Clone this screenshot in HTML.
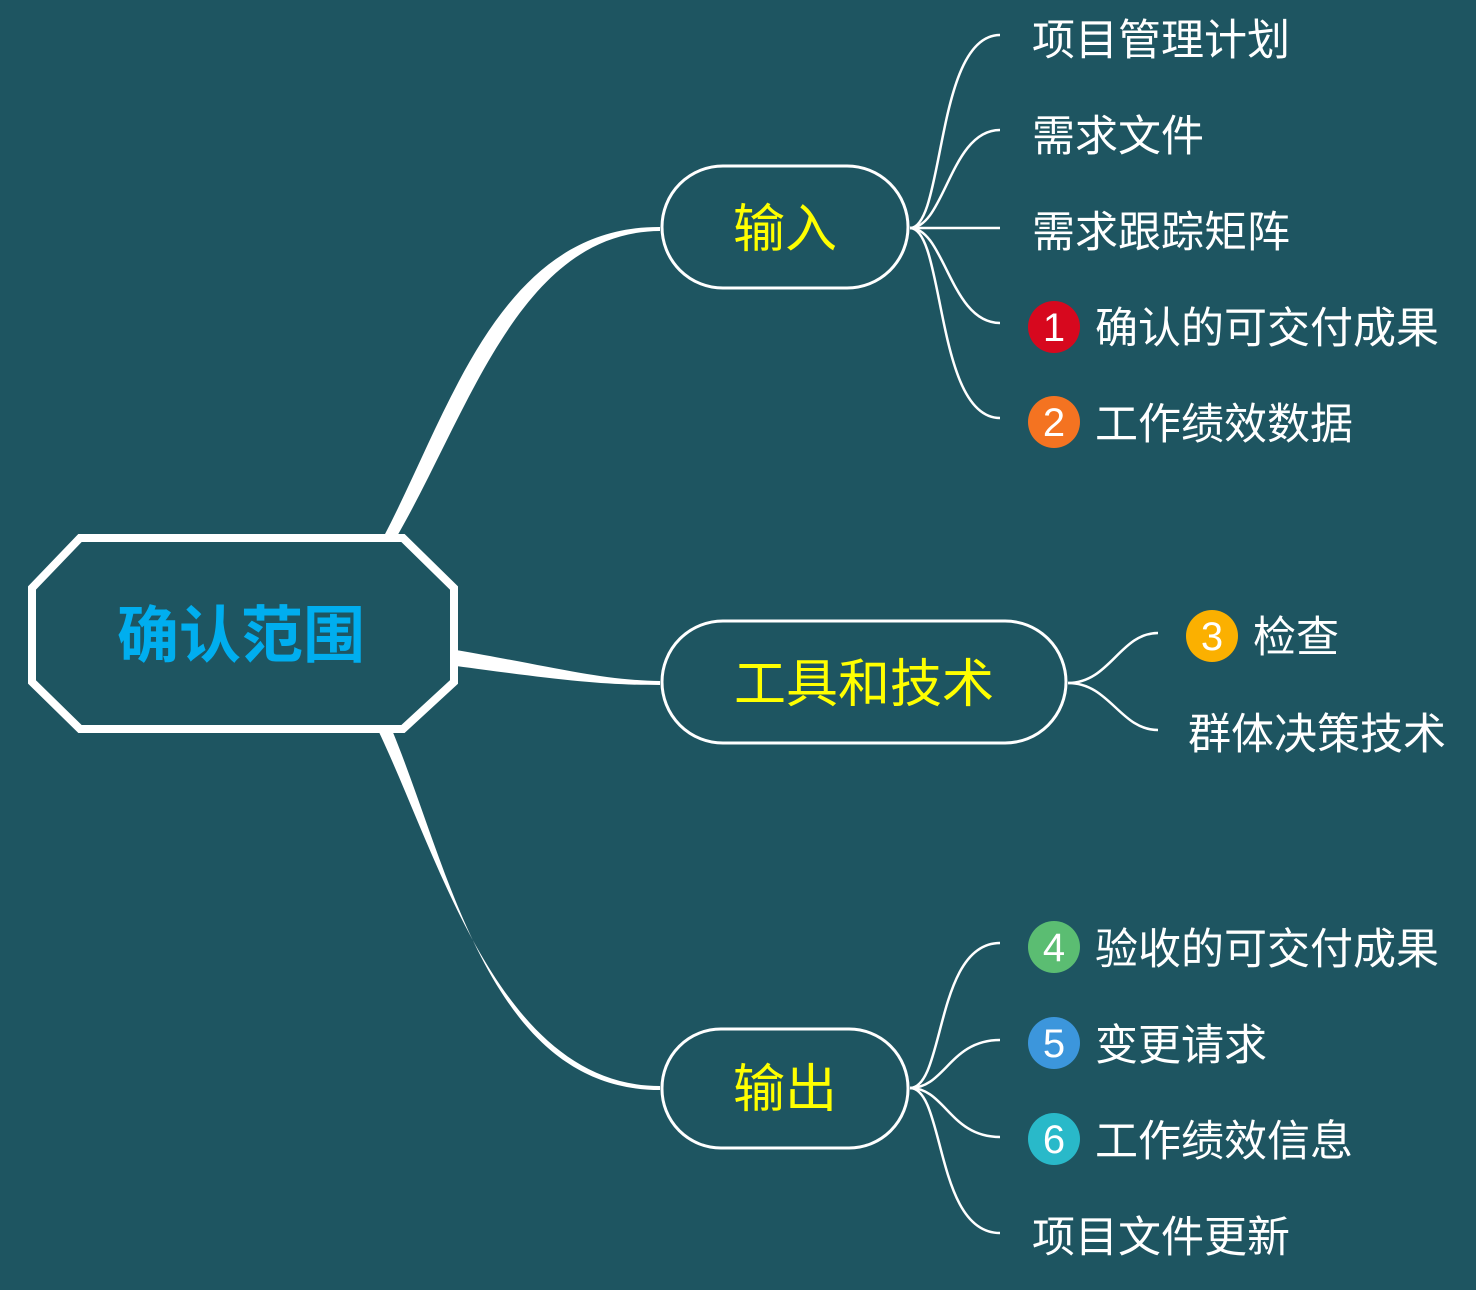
<!DOCTYPE html>
<html><head><meta charset="utf-8"><style>
html,body{margin:0;padding:0;background:#1e5561;}
svg{display:block}
text{font-family:"Liberation Sans","Noto Sans CJK SC",sans-serif;}
</style></head><body>
<svg width="1476" height="1290" viewBox="0 0 1476 1290" xmlns="http://www.w3.org/2000/svg">
<rect width="1476" height="1290" fill="#1e5561"/>
<path d="M384,536 C450,410 500,226 660,227 L660,231 C520,232 470,410 396,538 Z" fill="#fff"/>
<path d="M456,650 C560,668 600,680 660,681 L660,685 C600,685 560,680 456,666 Z" fill="#fff"/>
<path d="M378,730 C440,860 500,1086 660,1086 L660,1090 C490,1090 450,870 392,730 Z" fill="#fff"/>
<polygon points="80,538 403,538 454,588 454,682 403,729 80,729 32,682 32,588" fill="#1e5561" stroke="#fff" stroke-width="8" stroke-linejoin="miter"/>
<text x="241" y="657" font-size="62" font-weight="bold" fill="#00aeef" text-anchor="middle">确认范围</text>
<g fill="#1e5561" stroke="#fff" stroke-width="3">
<rect x="662" y="166" width="246" height="122" rx="61"/>
<rect x="662" y="621" width="404" height="122" rx="61"/>
<rect x="662" y="1029" width="246" height="119" rx="59"/>
</g>
<g fill="#ffff00" font-size="52" text-anchor="middle">
<text x="785" y="247">输入</text>
<text x="864" y="702">工具和技术</text>
<text x="785" y="1107">输出</text>
</g>
<g fill="none" stroke="#fff" stroke-width="2.5">
<path d="M910,228 C945,228 935,35 1000,35"/>
<path d="M910,228 C945,228 950,130 1000,130"/>
<path d="M910,228 L1000,228"/>
<path d="M910,228 C945,228 950,323 1000,323"/>
<path d="M910,228 C945,228 935,418 1000,418"/>
<path d="M1068,683 C1110,683 1120,633 1158,633"/>
<path d="M1068,683 C1110,683 1120,730 1158,730"/>
<path d="M910,1088 C945,1088 935,943 1000,943"/>
<path d="M910,1088 C945,1088 950,1040 1000,1040"/>
<path d="M910,1088 C945,1088 950,1137 1000,1137"/>
<path d="M910,1088 C945,1088 935,1233 1000,1233"/>
</g>
<g>
<circle cx="1054" cy="327" r="26" fill="#d7081e"/>
<circle cx="1054" cy="422" r="26" fill="#f47321"/>
<circle cx="1212" cy="636" r="26" fill="#fbb000"/>
<circle cx="1054" cy="947" r="26" fill="#5bbd72"/>
<circle cx="1054" cy="1043" r="26" fill="#3c96dc"/>
<circle cx="1054" cy="1139" r="26" fill="#29b9c9"/>
</g>
<g fill="#fff" font-size="40" text-anchor="middle">
<text x="1054" y="341">1</text>
<text x="1054" y="436">2</text>
<text x="1212" y="650">3</text>
<text x="1054" y="961">4</text>
<text x="1054" y="1057">5</text>
<text x="1054" y="1153">6</text>
</g>
<g fill="#fff" font-size="43">
<text x="1032" y="55">项目管理计划</text>
<text x="1032" y="151">需求文件</text>
<text x="1032" y="247">需求跟踪矩阵</text>
<text x="1095" y="343">确认的可交付成果</text>
<text x="1095" y="439">工作绩效数据</text>
<text x="1253" y="652">检查</text>
<text x="1188" y="749">群体决策技术</text>
<text x="1095" y="964">验收的可交付成果</text>
<text x="1095" y="1060">变更请求</text>
<text x="1095" y="1156">工作绩效信息</text>
<text x="1032" y="1252">项目文件更新</text>
</g>
</svg>
</body></html>
